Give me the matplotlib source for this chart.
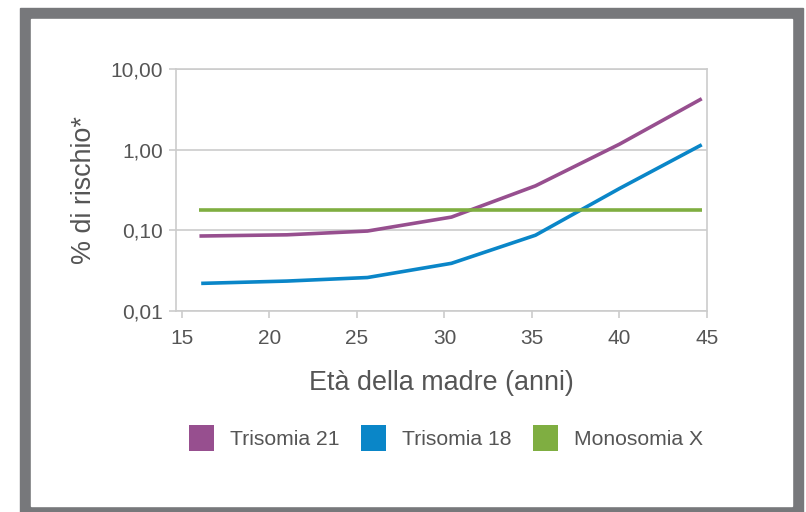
import matplotlib.pyplot as plt
from matplotlib.patches import Patch, Rectangle
from matplotlib.ticker import FixedLocator, NullLocator

# maternal age (years)
eta_t21 = [16, 21, 25.6, 30.4, 35.2, 40, 44.7]
eta_t18 = [16.1, 21, 25.6, 30.4, 35.2, 40, 44.7]
eta_mx = [16, 44.7]

# risk (%)
rischio_t21 = [0.085, 0.088, 0.098, 0.146, 0.356, 1.17, 4.28]
rischio_t18 = [0.022, 0.0235, 0.026, 0.039, 0.087, 0.33, 1.15]
rischio_mx = [0.18, 0.18]

serie = ["Trisomia 21", "Trisomia 18", "Monosomia X"]
colori = ["#974F8F", "#0A86C8", "#7FAE41"]

x_ticks = [15, 20, 25, 30, 35, 40, 45]
y_ticks = [0.01, 0.1, 1, 10]
y_labels = ["0,01", "0,10", "1,00", "10,00"]

plt.rcParams['font.family'] = ['Liberation Sans', 'DejaVu Sans']
testo = "#555555"
griglia = "#CCCCCC"

fig = plt.figure(figsize=(8.06, 5.12), dpi=100)

# grey frame around the chart
fig.patches.append(Rectangle((20 / 806, 0), 783 / 806, 504 / 512,
                             transform=fig.transFigure, color="#77787B", zorder=-2))
fig.patches.append(Rectangle((31 / 806, 6 / 512), 761 / 806, 487 / 512,
                             transform=fig.transFigure, color="white", zorder=-1))

ax = fig.add_axes([176 / 806, 1 - 311 / 512, 531 / 806, 242 / 512])
ax.set_facecolor("none")
ax.set_zorder(2)

ax.plot(eta_t21, rischio_t21, color=colori[0], lw=2.6, solid_capstyle="butt")
ax.plot(eta_t18, rischio_t18, color=colori[1], lw=2.6, solid_capstyle="butt")
ax.plot(eta_mx, rischio_mx, color=colori[2], lw=2.6, solid_capstyle="butt")

ax.set_yscale("log")
ax.set_ylim(0.01, 10)
ax.set_xlim(14.66, 45)
ax.yaxis.set_major_locator(FixedLocator(y_ticks))
ax.yaxis.set_minor_locator(NullLocator())
ax.set_yticklabels(y_labels)
ax.set_xticks(x_ticks)
ax.set_xticklabels([str(v) for v in x_ticks])

ax.grid(axis="y", color=griglia, lw=1.2)
for s in ax.spines.values():
    s.set_color(griglia)
    s.set_linewidth(1.2)
ax.tick_params(axis="both", colors=griglia, labelcolor=testo, labelsize=15, width=1.2)
ax.tick_params(axis="y", length=5, pad=4.5)
ax.tick_params(axis="x", length=5, pad=8)

ax.set_xlabel("Età della madre (anni)", fontsize=19.4, color=testo, labelpad=15.5)
ax.set_ylabel("% di rischio*", fontsize=19.4, color=testo, labelpad=9.5)

handles = [Patch(facecolor=c, edgecolor="none") for c in colori]
fig.legend(handles, serie, loc="center", bbox_to_anchor=(446 / 806, 1 - 438 / 512),
           ncol=3, frameon=False, fontsize=15.2, labelcolor=testo,
           handlelength=1.2, handleheight=1.5, handletextpad=0.75, columnspacing=1.0)

fig.savefig("out.png", dpi=100)
